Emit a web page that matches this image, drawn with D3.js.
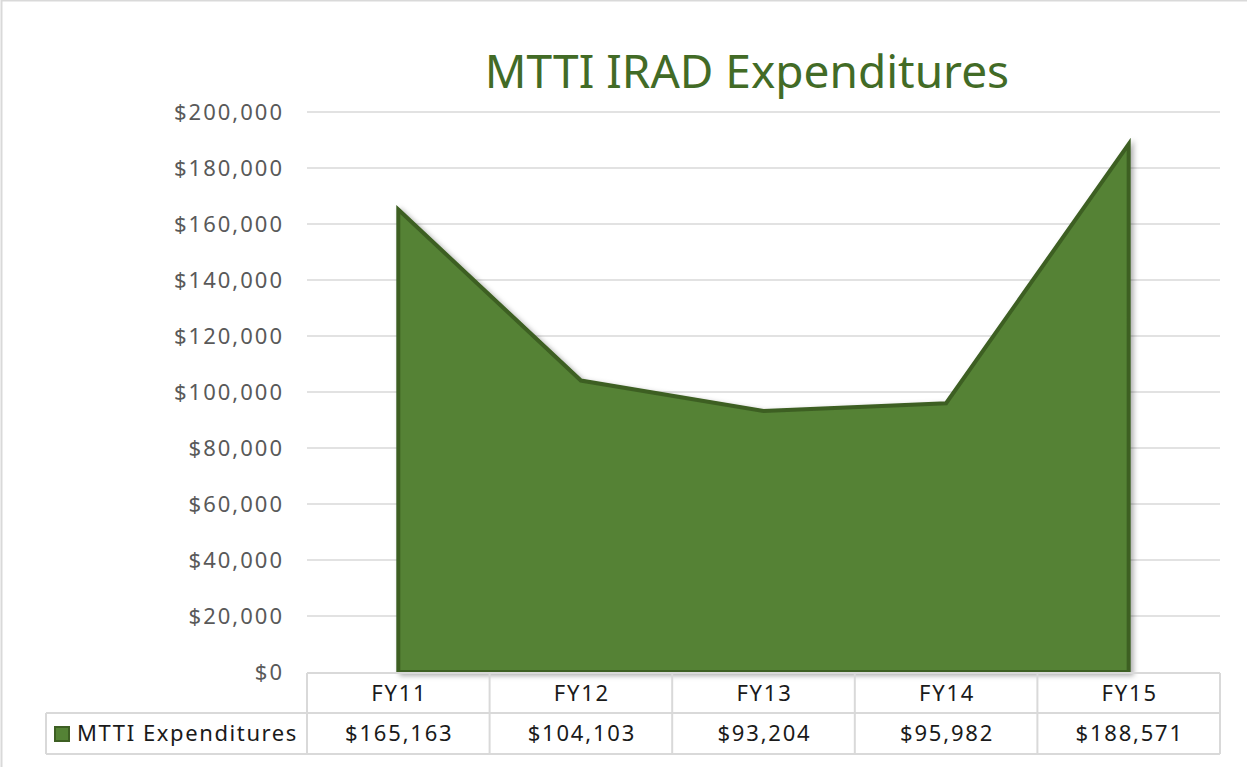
<!DOCTYPE html>
<html lang="en">
<head>
    <meta charset="UTF-8">
    <title>MTTI IRAD Expenditures</title>
    <script src="https://cdn.jsdelivr.net/npm/d3@7"></script>
    <style>
        body { margin: 0; background: #fff; }
        text { font-family: "Noto Sans", "DejaVu Sans", sans-serif; }
    </style>
</head>
<body>
    <div id="chart"></div>

    <script>
        // data
        const years = ['FY11', 'FY12', 'FY13', 'FY14', 'FY15'];
        const spend = [165163, 104103, 93204, 95982, 188571];
        const yTicks = [0, 20000, 40000, 60000, 80000, 100000, 120000, 140000, 160000, 180000, 200000];
        const seriesName = 'MTTI Expenditures';

        const width = 1247;
        const height = 767;
        const green = '#548235';
        const greenDark = '#3d5f23';
        const gridColor = '#d9d9d9';

        const plotLeft = 307, plotRight = 1220, plotTop = 112, plotBottom = 672;

        const svg = d3.select('#chart').append('svg')
            .attr('width', width)
            .attr('height', height);

        // outer chart border
        svg.append('rect')
            .attr('x', 1.5).attr('y', 0.5)
            .attr('width', width).attr('height', height + 5)
            .attr('fill', 'none')
            .attr('stroke', gridColor)
            .attr('stroke-width', 2);

        const defs = svg.append('defs');
        const shadow = defs.append('filter').attr('id', 'shadow')
            .attr('x', '-5%').attr('y', '-5%').attr('width', '110%').attr('height', '110%');
        shadow.append('feDropShadow')
            .attr('dx', 3).attr('dy', 2).attr('stdDeviation', 2.5)
            .attr('flood-color', '#000').attr('flood-opacity', 0.3);

        const x = d3.scaleBand().domain(years).range([plotLeft, plotRight]);
        const y = d3.scaleLinear().domain([0, 200000]).range([plotBottom, plotTop]);

        // title
        svg.append('text')
            .attr('x', 747).attr('y', 88)
            .attr('text-anchor', 'middle')
            .attr('fill', '#426b26')
            .attr('font-size', 46)
            .text('MTTI IRAD Expenditures');

        // gridlines
        svg.append('g').selectAll('line')
            .data(yTicks.slice(1))
            .join('line')
            .attr('x1', plotLeft).attr('x2', plotRight)
            .attr('y1', d => y(d)).attr('y2', d => y(d))
            .attr('stroke', gridColor)
            .attr('stroke-width', 1.5);

        // y axis labels
        const fmt = d3.format('$,');
        svg.append('g').selectAll('text')
            .data(yTicks)
            .join('text')
            .attr('x', 284)
            .attr('y', d => y(d))
            .attr('dy', '0.35em')
            .attr('text-anchor', 'end')
            .attr('fill', '#595959')
            .attr('font-size', 22)
            .attr('letter-spacing', 2)
            .text(d => fmt(d));

        // area
        const cx = d => x(d) + x.bandwidth() / 2;
        const area = d3.area()
            .x((d, i) => cx(years[i]))
            .y0(plotBottom)
            .y1(d => y(d));

        svg.append('path')
            .datum(spend)
            .attr('d', area)
            .attr('fill', green)
            .attr('stroke', greenDark)
            .attr('stroke-width', 4)
            .attr('stroke-linejoin', 'miter')
            .attr('filter', 'url(#shadow)');

        // data table
        const tableTop = 673, rowMid = 713, tableBottom = 754;
        const legendLeft = 46;
        const t = svg.append('g')
            .attr('stroke', gridColor)
            .attr('stroke-width', 2)
            .attr('fill', 'none');

        t.append('line').attr('x1', plotLeft).attr('x2', plotRight).attr('y1', tableTop).attr('y2', tableTop);
        t.append('line').attr('x1', legendLeft).attr('x2', plotRight).attr('y1', rowMid).attr('y2', rowMid);
        t.append('line').attr('x1', legendLeft).attr('x2', plotRight).attr('y1', tableBottom).attr('y2', tableBottom);
        t.append('line').attr('x1', legendLeft).attr('x2', legendLeft).attr('y1', rowMid).attr('y2', tableBottom);
        t.selectAll('.col')
            .data(years.map(d => x(d)).concat([plotRight]))
            .join('line')
            .attr('x1', d => d).attr('x2', d => d)
            .attr('y1', tableTop).attr('y2', tableBottom);

        svg.append('g').selectAll('text')
            .data(years)
            .join('text')
            .attr('x', d => cx(d) + 1)
            .attr('y', (tableTop + rowMid) / 2)
            .attr('dy', '0.35em')
            .attr('text-anchor', 'middle')
            .attr('fill', '#1a1a1a')
            .attr('font-size', 22)
            .attr('letter-spacing', 1.8)
            .text(d => d);

        svg.append('g').selectAll('text')
            .data(spend)
            .join('text')
            .attr('x', (d, i) => cx(years[i]) + 1)
            .attr('y', (rowMid + tableBottom) / 2)
            .attr('dy', '0.35em')
            .attr('text-anchor', 'middle')
            .attr('fill', '#1a1a1a')
            .attr('font-size', 22)
            .attr('letter-spacing', 1.8)
            .text(d => fmt(d));

        // legend key
        svg.append('rect')
            .attr('x', 55).attr('y', 727)
            .attr('width', 14).attr('height', 14)
            .attr('fill', green)
            .attr('stroke', greenDark)
            .attr('stroke-width', 2);

        svg.append('text')
            .attr('x', 77)
            .attr('y', (rowMid + tableBottom) / 2)
            .attr('dy', '0.35em')
            .attr('fill', '#1a1a1a')
            .attr('font-size', 22)
            .attr('letter-spacing', 1.6)
            .text(seriesName);
    </script>
</body>
</html>
